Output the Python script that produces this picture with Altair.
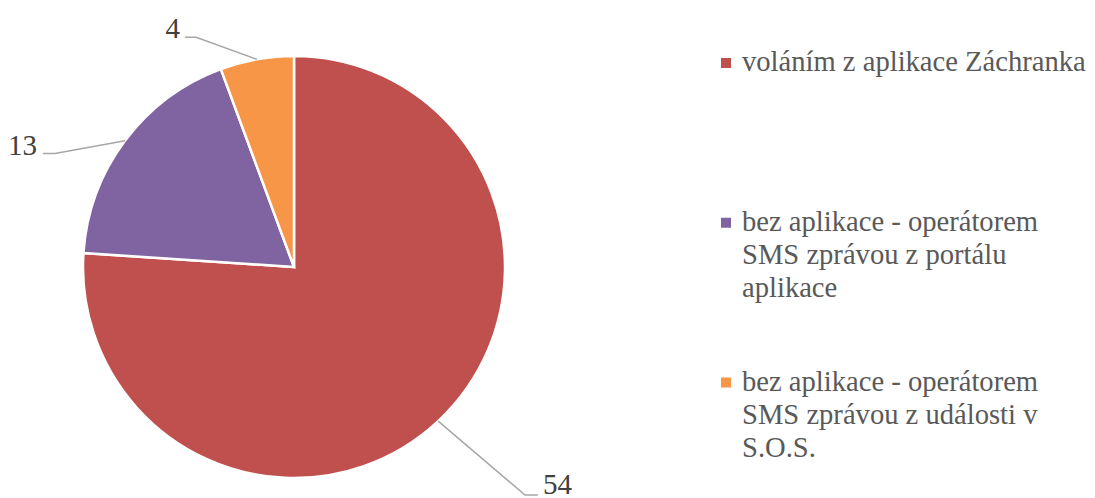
import altair as alt
import numpy as np
import pandas as pd

# ---- data ----
categories = [
    "voláním z aplikace Záchranka",
    "bez aplikace - operátorem SMS zprávou z portálu aplikace",
    "bez aplikace - operátorem SMS zprávou z události v S.O.S.",
]
legend_lines = [
    "voláním z aplikace Záchranka",
    "bez aplikace - operátorem\nSMS zprávou z portálu\naplikace",
    "bez aplikace - operátorem\nSMS zprávou z události v\nS.O.S.",
]
values = [54, 13, 4]
colors = ["#C0504D", "#8064A2", "#F79646"]

# ---- layout (pie units: 1 = radius, y up, origin at pie centre) ----
W, H = 1079, 496
R = 211.0
cx, cy = 286.0, 259.0
xs = alt.Scale(domain=[-cx / R, (W - cx) / R], range=[0, W], nice=False, zero=False)
ys = alt.Scale(domain=[-(H - cy) / R, cy / R], range=[H, 0], nice=False, zero=False)

# label elbows / ends / anchors (pie units), per category
elbow = [(1.095, -1.081), (-1.133, 0.538), (-0.464, 1.089)]
lend = [(1.156, -1.081), (-1.190, 0.538), (-0.517, 1.089)]
anchor = [(1.180, -1.076), (-1.218, 0.531), (-0.540, 1.085)]
align_left = [True, False, False]

vals = np.array(values, dtype=float)
total = vals.sum()
mid = (np.cumsum(vals) - vals / 2) / total * 2 * np.pi

pie_df = pd.DataFrame({"cat": categories, "value": values, "order": range(len(values))})

rows = []
for i, c in enumerate(categories):
    pts = [(np.sin(mid[i]), np.cos(mid[i])), elbow[i], lend[i]]
    for s, (px, py) in enumerate(pts):
        rows.append({"cat": c, "step": s, "x": px, "y": py})
lead_df = pd.DataFrame(rows)

lab_df = pd.DataFrame({
    "cat": categories,
    "label": [str(v) for v in values],
    "x": [a[0] for a in anchor],
    "y": [a[1] for a in anchor],
    "left": align_left,
})

leg_df = pd.DataFrame({"cat": categories, "text": legend_lines})

color_scale = alt.Scale(domain=categories, range=colors)
FONT = "Liberation Serif"

arc = alt.Chart(pie_df).mark_arc(outerRadius=R, stroke="white", strokeWidth=2.5).encode(
    theta=alt.Theta("value:Q", stack=True),
    color=alt.Color("cat:N", scale=color_scale, legend=None),
    order=alt.Order("order:Q"),
    x=alt.XDatum(0, type="quantitative", scale=xs, axis=None),
    y=alt.YDatum(0, type="quantitative", scale=ys, axis=None),
)

leaders = alt.Chart(lead_df).mark_line(color="#A6A6A6", strokeWidth=1.5).encode(
    x=alt.X("x:Q", scale=xs, axis=None),
    y=alt.Y("y:Q", scale=ys, axis=None),
    detail="cat:N",
    order="step:Q",
)

lab_left = alt.Chart(lab_df).transform_filter("datum.left").mark_text(
    align="left", baseline="alphabetic", font=FONT, fontSize=29, color="#404040"
).encode(
    x=alt.X("x:Q", scale=xs, axis=None),
    y=alt.Y("y:Q", scale=ys, axis=None),
    text="label:N",
)
lab_right = alt.Chart(lab_df).transform_filter("!datum.left").mark_text(
    align="right", baseline="alphabetic", font=FONT, fontSize=29, color="#404040"
).encode(
    x=alt.X("x:Q", scale=xs, axis=None),
    y=alt.Y("y:Q", scale=ys, axis=None),
    text="label:N",
)

leg_y = alt.Y("cat:N", scale=alt.Scale(type="point", domain=categories, range=[55, 374.5], padding=0), axis=None)

leg_sq = alt.Chart(leg_df).mark_square(size=100, filled=True, opacity=1).encode(
    x=alt.value(718),
    y=leg_y,
    color=alt.Color("cat:N", scale=color_scale, legend=None),
)
leg_txt = alt.Chart(leg_df).mark_text(
    align="left", baseline="alphabetic", dy=8, lineBreak="\n",
    font=FONT, fontSize=28.6, lineHeight=33, color="#595959",
).encode(
    x=alt.value(734),
    y=leg_y,
    text="text:N",
)

chart = alt.layer(arc, leaders, lab_left, lab_right, leg_sq, leg_txt).resolve_scale(
    y="independent"
).properties(
    width=W, height=H, padding=0, autosize=alt.AutoSizeParams(type="none")
).configure_view(stroke=None)

chart.save("out.html", embed_options={"renderer": "svg", "actions": False})
